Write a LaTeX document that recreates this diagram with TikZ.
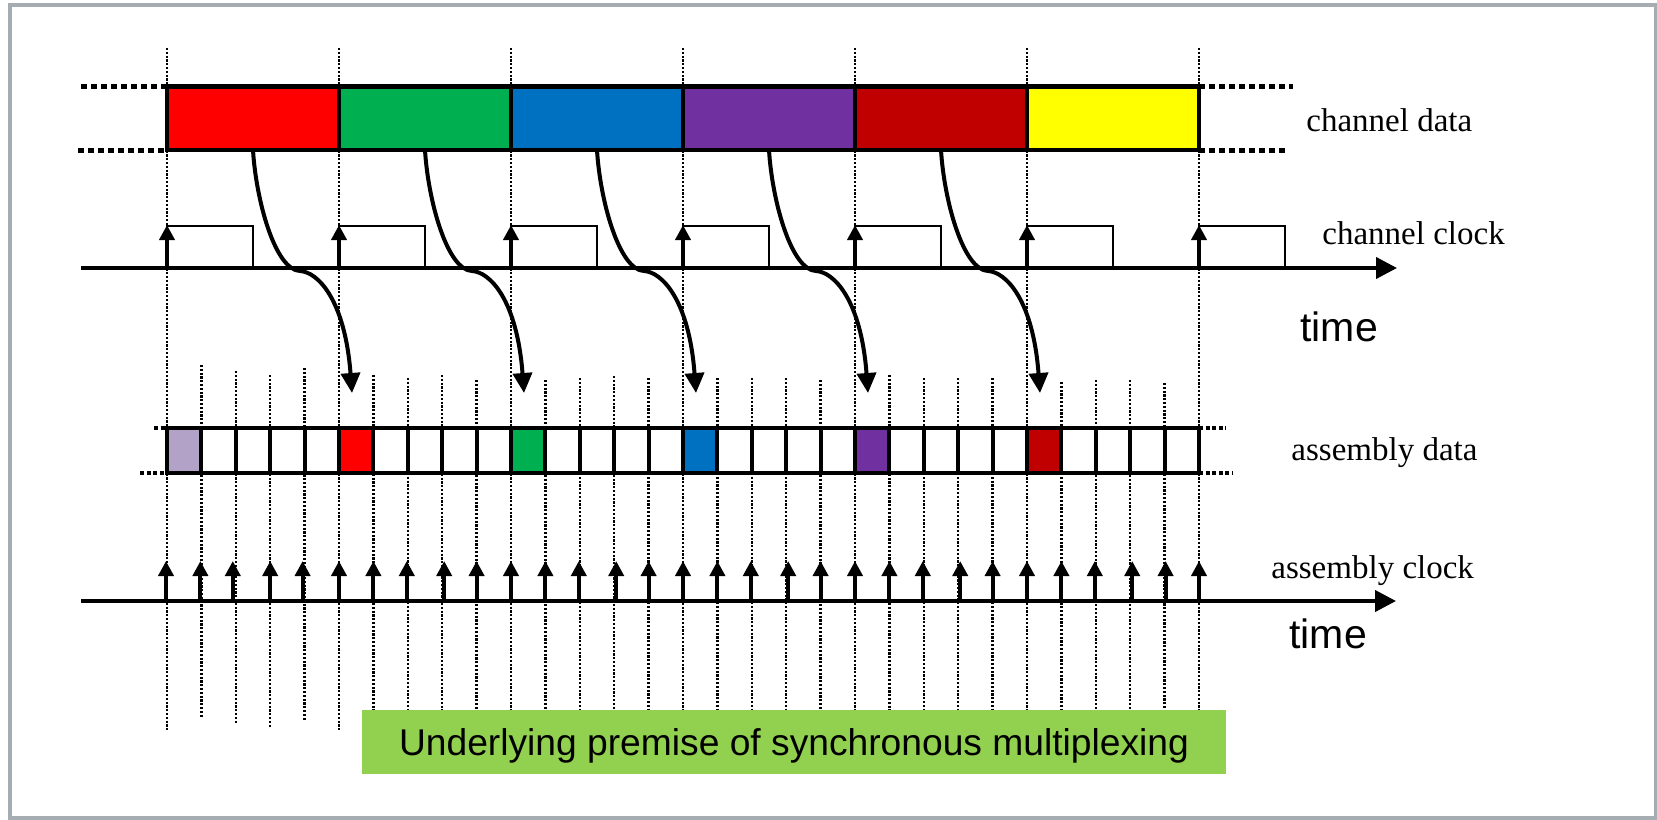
\documentclass[tikz,border=0pt]{standalone}
\usepackage{fontspec}
\setmainfont{Liberation Serif}
\newfontfamily\sansf{Liberation Sans}
\usetikzlibrary{arrows.meta}

\definecolor{frameGray}{RGB}{165,172,178}
\definecolor{dRed}{RGB}{255,0,0}
\definecolor{dGreen}{RGB}{0,176,80}
\definecolor{dBlue}{RGB}{0,112,192}
\definecolor{dPurple}{RGB}{112,48,160}
\definecolor{dDarkRed}{RGB}{192,0,0}
\definecolor{dYellow}{RGB}{255,255,0}
\definecolor{dLavender}{RGB}{179,162,199}
\definecolor{noteGreen}{RGB}{146,208,80}

\begin{document}
\begin{tikzpicture}[x=0.5pt,y=-0.5pt,
  chbox/.style={draw=black, line width=2.3pt, minimum width=86pt, minimum height=31.75pt,
                inner sep=0pt, outer sep=0pt, anchor=north west},
  slot/.style={draw=black, line width=2pt, minimum width=17.2pt, minimum height=22.5pt,
               inner sep=0pt, outer sep=0pt, anchor=north west},
  guide/.style={line width=1.25pt, dash pattern=on 1.1pt off 0.8pt},
  ext/.style={line width=2.5pt, dash pattern=on 3pt off 2pt},
  extsmall/.style={line width=1.8pt, dash pattern=on 2pt off 1.3pt},
  timeaxis/.style={line width=2pt, -{Triangle[length=10.5pt,width=10.5pt]}},
  clk/.style={line width=2pt, -{Triangle[length=7.5pt,width=7.5pt]}},
  pulse/.style={line width=1pt},
  flow/.style={line width=2pt, -{Triangle[length=10pt,width=9.5pt]}},
  lbl/.style={font=\fontsize{16.5pt}{18pt}\selectfont, anchor=base west, inner sep=0pt},
  timelbl/.style={font=\sansf\fontsize{20.5pt}{22pt}\selectfont, anchor=base west, inner sep=0pt},
]
\useasboundingbox (0,0) rectangle (1657,819);
\fill[white] (0,0) rectangle (1657,819);

% vertical timing guides at every assembly slot boundary
\foreach \k/\t/\b in {0/48/730,1/365/717,2/371/723,3/375/727,4/368/721,5/48/730,
  6/375/712,7/378/712,8/375/712,9/380/712,10/48/712,11/380/712,12/378/712,13/376/712,
  14/378/712,15/48/712,16/378/712,17/378/712,18/378/712,19/380/712,20/48/712,21/375/712,
  22/378/712,23/378/712,24/378/712,25/48/712,26/382/712,27/380/712,28/380/712,29/383/712,30/48/712}
  \draw[guide] ({167+34.4*\k},\t) -- ({167+34.4*\k},\b);

% channel data frames
\foreach \c [count=\i from 0] in {dRed,dGreen,dBlue,dPurple,dDarkRed,dYellow}
  \node[chbox, fill=\c] (ch\i) at ({167+172*\i},86.5) {};
\coordinate (chLT) at (81,86.5);   \coordinate (chLB) at (78,150);
\coordinate (chRT) at (1293,86.5); \coordinate (chRB) at (1288,150);
\draw[ext] (chLT) -- (ch0.north west);
\draw[ext] (chLB) -- (ch0.south west);
\draw[ext] (ch5.north east) -- (chRT);
\draw[ext] (ch5.south east) -- (chRB);

% channel clock
\coordinate (ax1s) at (81,268); \coordinate (ax1e) at (1397,268);
\draw[timeaxis] (ax1s) -- (ax1e);
\foreach \i in {0,...,6}{
  \draw[pulse] ({167+172*\i},268) -- ({167+172*\i},226) -- ({253+172*\i},226) -- ({253+172*\i},268);
  \draw[clk] ({167+172*\i},268) -- ({167+172*\i},225);
}

% assembly data slots
\foreach \k/\c in {0/dLavender,1/white,2/white,3/white,4/white,5/dRed,6/white,7/white,8/white,9/white,
  10/dGreen,11/white,12/white,13/white,14/white,15/dBlue,16/white,17/white,18/white,19/white,
  20/dPurple,21/white,22/white,23/white,24/white,25/dDarkRed,26/white,27/white,28/white,29/white}
  \node[slot, fill=\c] (as\k) at ({167+34.4*\k},428) {};
\coordinate (asLT) at (154,428);  \coordinate (asLB) at (140,473);
\coordinate (asRT) at (1226,428); \coordinate (asRB) at (1233,473);
\draw[extsmall] (asLT) -- (as0.north west);
\draw[extsmall] (asLB) -- (as0.south west);
\draw[extsmall] (as29.north east) -- (asRT);
\draw[extsmall] (as29.south east) -- (asRB);

% channel data copied into assembly slots
\foreach \i in {0,...,4}{
  \coordinate (bend\i) at ({167+172*\i+133},271);
  \coordinate (tip\i) at ({167+172*\i+185},393);
  \draw[flow] (ch\i.south) .. controls +(3,50) and +(-25,-1) .. (bend\i)
                          .. controls +(18,1) and +(-7,-93) .. (tip\i);
}

% assembly clock
\coordinate (ax2s) at (81,601); \coordinate (ax2e) at (1396,601);
\draw[timeaxis] (ax2s) -- (ax2e);
\foreach \k/\d in {0/-1,1/-1,2/-3,3/0,4/-2,5/0,6/0,7/-1,8/2,9/0,10/0,11/0,12/-1,13/2,14/0,
  15/0,16/0,17/-1,18/2,19/0,20/0,21/0,22/-1,23/2,24/0,25/0,26/0,27/-1,28/2,29/1,30/0}
  \draw[clk] ({167+34.4*\k+\d},601) -- ({167+34.4*\k+\d},561);

% labels
\node[lbl] (lChData) at (1306,131) {channel data};
\node[lbl] (lChClk) at (1322,244) {channel clock};
\node[timelbl] (lTime1) at (1300,341) {time};
\node[lbl] (lAsData) at (1291,460) {assembly data};
\node[lbl] (lAsClk) at (1271,578) {assembly clock};
\node[timelbl] (lTime2) at (1289,648) {time};

% caption
\node[fill=noteGreen, minimum width=432pt, minimum height=32pt, inner sep=0pt,
      text height=14pt, text depth=1pt, font=\sansf\fontsize{18.6pt}{20pt}\selectfont]
  (note) at (794,742) {Underlying premise of synchronous multiplexing};

% outer frame
\draw[frameGray, line width=2pt] (9.5,5) rectangle (1655.5,817.5);
\end{tikzpicture}
\end{document}
